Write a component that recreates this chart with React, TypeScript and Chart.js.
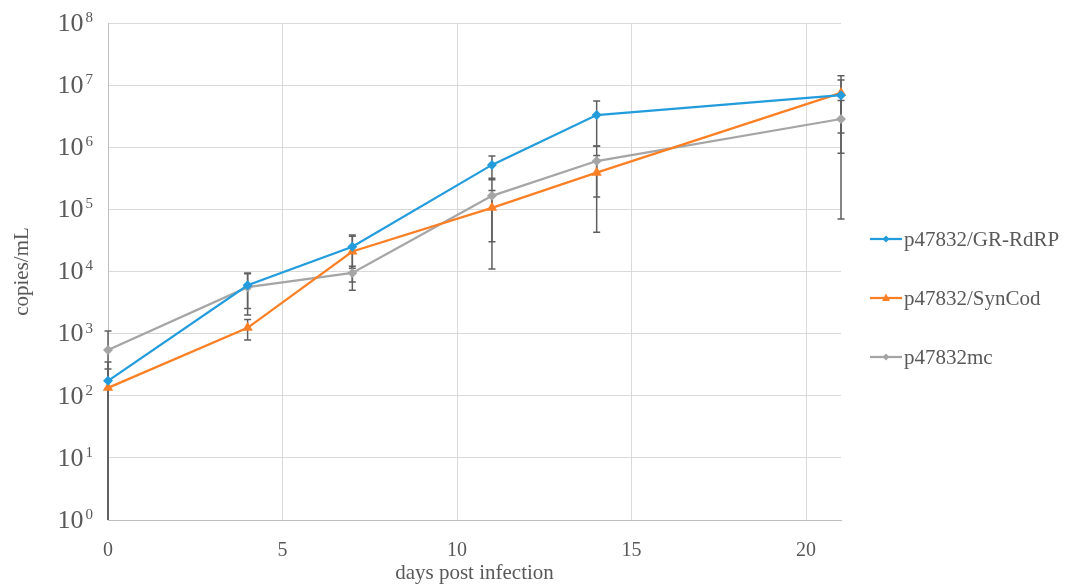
import React, { useEffect, useRef } from 'react';
import { Chart, registerables } from 'chart.js';

Chart.register(...registerables);

const days = [0, 4, 7, 11, 14, 21];
const seriesNames = ['p47832/GR-RdRP', 'p47832/SynCod', 'p47832mc'];
const grRdrpValues = [174, 6000, 25000, 520000, 3300000, 6900000];
const grRdrpSd = [176, 3460, 13700, 203000, 2250000, 5200000];
const synCodValues = [134, 1240, 21000, 106000, 390000, 7500000];
const synCodSd = [136, 450, 16000, 95000, 347000, 6700000];
const mcValues = [545, 5600, 9500, 165000, 600000, 2850000];
const mcSd = [555, 3600, 2700, 135000, 442000, 2780000];
const seriesColors = ['#229cdd', '#fb7f24', '#a5a5a5'];
const seriesMarkers = ['rectRot', 'triangle', 'rectRot'];
const yTickValues = [1, 10, 100, 1000, 10000, 100000, 1000000, 10000000, 100000000];
const xTickValues = [0, 5, 10, 15, 20];
const xTitle = 'days post infection';
const yTitle = 'copies/mL';

const FONT = '"Liberation Serif", "DejaVu Serif", serif';
const TEXT = '#595959';

const allValues = [grRdrpValues, synCodValues, mcValues];
const allSd = [grRdrpSd, synCodSd, mcSd];

function drawMarker(ctx: CanvasRenderingContext2D, style: string, x: number, y: number, r: number, color: string) {
  ctx.save();
  ctx.fillStyle = color;
  ctx.beginPath();
  if (style === 'triangle') {
    ctx.moveTo(x, y - r * 1.1);
    ctx.lineTo(x + r, y + r * 0.75);
    ctx.lineTo(x - r, y + r * 0.75);
  } else {
    ctx.moveTo(x, y - r);
    ctx.lineTo(x + r, y);
    ctx.lineTo(x, y + r);
    ctx.lineTo(x - r, y);
  }
  ctx.closePath();
  ctx.fill();
  ctx.restore();
}

const errorBarPlugin = {
  id: 'errorBars',
  beforeDatasetsDraw(chart: any) {
    const { ctx, scales, chartArea } = chart;
    const xs = scales.x;
    const ys = scales.y;
    ctx.save();
    ctx.strokeStyle = '#5f5f5f';
    ctx.lineWidth = 1.5;
    allValues.forEach((vals, si) => {
      vals.forEach((v, i) => {
        const sd = allSd[si][i];
        const x = xs.getPixelForValue(days[i]);
        const hi = v + sd;
        const lo = v - sd;
        const yHi = ys.getPixelForValue(hi);
        const loClamped = lo <= ys.min;
        const yLo = loClamped ? chartArea.bottom : ys.getPixelForValue(lo);
        ctx.beginPath();
        ctx.moveTo(x, yHi);
        ctx.lineTo(x, yLo);
        ctx.moveTo(x - 3.5, yHi);
        ctx.lineTo(x + 3.5, yHi);
        if (!loClamped) {
          ctx.moveTo(x - 3.5, yLo);
          ctx.lineTo(x + 3.5, yLo);
        }
        ctx.stroke();
      });
    });
    ctx.restore();
  },
};

const yLabelPlugin = {
  id: 'yLabels',
  afterDraw(chart: any) {
    const { ctx, scales } = chart;
    const ys = scales.y;
    ctx.save();
    ctx.fillStyle = TEXT;
    ctx.textBaseline = 'middle';
    ctx.textAlign = 'left';
    yTickValues.forEach((v) => {
      const y = ys.getPixelForValue(v);
      const exp = String(Math.round(Math.log10(v)));
      ctx.font = `15px ${FONT}`;
      const ew = ctx.measureText(exp).width;
      ctx.font = `26px ${FONT}`;
      const bw = ctx.measureText('10').width;
      const right = 93;
      const x0 = right - ew - 2 - bw;
      ctx.fillText('10', x0, y + 1);
      ctx.font = `15px ${FONT}`;
      ctx.fillText(exp, x0 + bw + 2, y - 5);
    });
    ctx.restore();
  },
};

const legendPlugin = {
  id: 'customLegend',
  afterDraw(chart: any) {
    const { ctx } = chart;
    const ys = [239, 298, 357];
    ctx.save();
    seriesNames.forEach((name, i) => {
      const y = ys[i];
      ctx.strokeStyle = seriesColors[i];
      ctx.lineWidth = 2.25;
      ctx.beginPath();
      ctx.moveTo(870, y);
      ctx.lineTo(902, y);
      ctx.stroke();
      drawMarker(ctx, seriesMarkers[i], 886, y, seriesMarkers[i] === 'triangle' ? 4 : 3.5, seriesColors[i]);
      ctx.fillStyle = TEXT;
      ctx.font = `21px ${FONT}`;
      ctx.textBaseline = 'middle';
      ctx.textAlign = 'left';
      ctx.fillText(name, 904, y + 1);
    });
    ctx.restore();
  },
};

export default function App() {
  const canvasRef = useRef<HTMLCanvasElement | null>(null);

  useEffect(() => {
    if (!canvasRef.current) return;
    const chart = new Chart(canvasRef.current, {
      type: 'line',
      data: {
        datasets: seriesNames.map((name, si) => ({
          label: name,
          data: days.map((d, i) => ({ x: d, y: allValues[si][i] })),
          borderColor: seriesColors[si],
          backgroundColor: seriesColors[si],
          borderWidth: 2.25,
          pointStyle: seriesMarkers[si] as any,
          pointRadius: seriesMarkers[si] === 'triangle' ? 6 : 5,
          pointBorderWidth: 0,
          tension: 0,
          clip: false as any,
        })),
      },
      options: {
        animation: false,
        responsive: false,
        maintainAspectRatio: false,
        events: [],
        layout: { padding: { left: 0, right: 238, top: 23, bottom: 0 } },
        plugins: {
          legend: { display: false },
          tooltip: { enabled: false },
        },
        scales: {
          x: {
            type: 'linear',
            min: 0,
            max: 21,
            afterBuildTicks: (axis: any) => {
              axis.ticks = xTickValues.map((v) => ({ value: v }));
            },
            afterFit: (axis: any) => {
              axis.height = 66;
            },
            grid: { color: '#d9d9d9', lineWidth: 1, drawTicks: false },
            border: { color: '#bfbfbf', width: 1 },
            ticks: {
              color: TEXT,
              font: { family: FONT, size: 20 },
              padding: 19,
              maxRotation: 0,
              autoSkip: false,
            },
            title: {
              display: true,
              text: xTitle,
              color: TEXT,
              font: { family: FONT, size: 21 },
              padding: { top: 0, bottom: 0 },
            },
          },
          y: {
            type: 'logarithmic',
            min: 1,
            max: 100000000,
            afterBuildTicks: (axis: any) => {
              axis.ticks = yTickValues.map((v) => ({ value: v, major: true }));
            },
            afterFit: (axis: any) => {
              axis.width = 108;
            },
            grid: { color: '#d9d9d9', lineWidth: 1, drawTicks: false },
            border: { color: '#bfbfbf', width: 1 },
            ticks: { display: false },
            title: {
              display: true,
              text: yTitle,
              color: TEXT,
              font: { family: FONT, size: 21 },
              padding: { top: 10, bottom: 0 },
            },
          },
        },
      },
      plugins: [errorBarPlugin, yLabelPlugin, legendPlugin],
    });
    return () => chart.destroy();
  }, []);

  return (
    <div style={{ position: 'fixed', left: 0, top: 0, width: 1079, height: 586, background: '#fff' }}>
      <canvas ref={canvasRef} width={1079} height={586} style={{ width: 1079, height: 586 }} />
    </div>
  );
}
